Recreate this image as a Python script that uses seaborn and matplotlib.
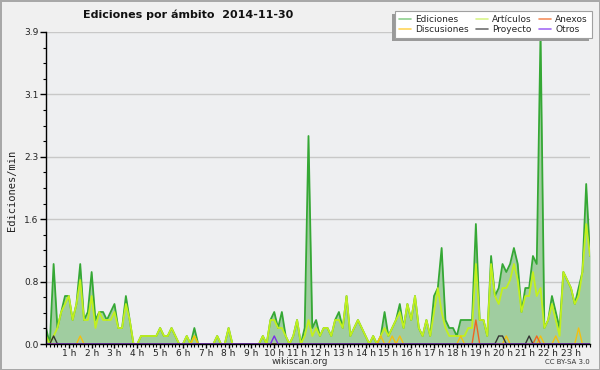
import numpy as np
import pandas as pd
import matplotlib
matplotlib.use('Agg')
import matplotlib.pyplot as plt
import seaborn as sns
from matplotlib.lines import Line2D
from matplotlib.patches import Rectangle
from matplotlib.ticker import MultipleLocator

# ---- data (ediciones por minuto, intervalos de 10 min) ----
ediciones = [
    0.2, 0.0, 1.0, 0.2, 0.4, 0.6, 0.6, 0.3, 0.5, 1.0,
    0.3, 0.4, 0.9, 0.3, 0.4, 0.4, 0.3, 0.4, 0.5, 0.2,
    0.2, 0.6, 0.3, 0.0, 0.0, 0.1, 0.1, 0.1, 0.1, 0.1,
    0.2, 0.1, 0.1, 0.2, 0.1, 0.0, 0.0, 0.1, 0.0, 0.2,
    0.0, 0.0, 0.0, 0.0, 0.0, 0.1, 0.0, 0.0, 0.2, 0.0,
    0.0, 0.0, 0.0, 0.0, 0.0, 0.0, 0.0, 0.1, 0.0, 0.3,
    0.4, 0.2, 0.4, 0.1, 0.0, 0.1, 0.3, 0.0, 0.2, 2.6,
    0.2, 0.3, 0.1, 0.2, 0.2, 0.1, 0.3, 0.4, 0.2, 0.6,
    0.1, 0.2, 0.3, 0.2, 0.1, 0.0, 0.1, 0.0, 0.1, 0.4,
    0.1, 0.2, 0.3, 0.5, 0.2, 0.5, 0.3, 0.6, 0.2, 0.1,
    0.3, 0.1, 0.6, 0.7, 1.2, 0.3, 0.2, 0.2, 0.1, 0.3,
    0.3, 0.3, 0.3, 1.5, 0.3, 0.3, 0.1, 1.1, 0.6, 0.7,
    1.0, 0.9, 1.0, 1.2, 1.0, 0.4, 0.7, 0.7, 1.1, 1.0,
    3.9, 0.2, 0.3, 0.6, 0.4, 0.2, 0.9, 0.8, 0.7, 0.5,
    0.7, 0.9, 2.0, 1.1,
]
articulos = [
    0.1, 0.0, 0.1, 0.2, 0.4, 0.5, 0.6, 0.3, 0.5, 0.8,
    0.3, 0.3, 0.6, 0.2, 0.4, 0.3, 0.3, 0.3, 0.4, 0.2,
    0.2, 0.5, 0.3, 0.0, 0.0, 0.1, 0.1, 0.1, 0.1, 0.1,
    0.2, 0.1, 0.1, 0.2, 0.1, 0.0, 0.0, 0.1, 0.0, 0.1,
    0.0, 0.0, 0.0, 0.0, 0.0, 0.1, 0.0, 0.0, 0.2, 0.0,
    0.0, 0.0, 0.0, 0.0, 0.0, 0.0, 0.0, 0.1, 0.0, 0.3,
    0.3, 0.2, 0.2, 0.1, 0.0, 0.1, 0.3, 0.0, 0.1, 0.3,
    0.1, 0.2, 0.1, 0.2, 0.2, 0.1, 0.3, 0.3, 0.2, 0.6,
    0.1, 0.2, 0.3, 0.2, 0.1, 0.0, 0.1, 0.0, 0.1, 0.2,
    0.1, 0.2, 0.3, 0.4, 0.2, 0.5, 0.3, 0.6, 0.2, 0.1,
    0.3, 0.1, 0.4, 0.7, 0.4, 0.2, 0.1, 0.1, 0.1, 0.1,
    0.1, 0.2, 0.2, 1.0, 0.3, 0.3, 0.1, 1.0, 0.6, 0.5,
    0.7, 0.7, 0.8, 1.0, 0.8, 0.4, 0.6, 0.6, 0.9, 0.6,
    0.7, 0.2, 0.3, 0.5, 0.3, 0.1, 0.9, 0.8, 0.7, 0.5,
    0.6, 0.9, 1.5, 1.1,
]
# sparse series: interval index -> value
discusiones_idx = [9, 39, 88, 91, 93, 109, 121, 130, 134, 140]
discusiones_val = [0.1, 0.1, 0.1, 0.1, 0.1, 0.1, 0.1, 0.1, 0.1, 0.2]
anexos_idx = [113, 129]
anexos_val = [0.3, 0.1]
proyecto_idx = [2, 119, 120, 127]
proyecto_val = [0.1, 0.1, 0.1, 0.1]
otros_idx = [60]
otros_val = [0.1]

hour_labels = [f"{h} h" for h in range(1, 24)]
ytick_vals = [0.0, 0.78, 1.56, 2.34, 3.12, 3.9]
ytick_labels = ["0.0", "0.8", "1.6", "2.3", "3.1", "3.9"]

n = len(ediciones)
hora = np.arange(n) / 6.0


def dense(idx, val):
    arr = np.zeros(n)
    arr[idx] = val
    return arr


series = {
    'Ediciones': np.array(ediciones),
    'Artículos': np.array(articulos),
    'Discusiones': dense(discusiones_idx, discusiones_val),
    'Anexos': dense(anexos_idx, anexos_val),
    'Proyecto': dense(proyecto_idx, proyecto_val),
    'Otros': dense(otros_idx, otros_val),
}
df = pd.concat([pd.DataFrame({'hora': hora, 'valor': v, 'serie': k})
                for k, v in series.items()], ignore_index=True)

line_colors = {
    'Ediciones': '#35a835',
    'Artículos': '#c2f01e',
    'Discusiones': '#f2c010',
    'Anexos': '#ee6622',
    'Proyecto': '#333333',
    'Otros': '#7a2ee8',
}
legend_colors = {
    'Ediciones': '#8fd08f',
    'Discusiones': '#ffd65a',
    'Artículos': '#d8f58a',
    'Proyecto': '#707070',
    'Anexos': '#f59060',
    'Otros': '#a46cf5',
}

sns.set_theme(style='white')
plt.rcParams['font.family'] = ['DejaVu Sans']

fig = plt.figure(figsize=(6, 3.7), dpi=100, facecolor='#f0f0f0')
fig.patch.set_edgecolor('#a8a8a8')
fig.patch.set_linewidth(2)
ax = fig.add_axes([46 / 600, 26 / 370, 544 / 600, 312 / 370])
ax.set_facecolor('#eeeff1')

ax.fill_between(hora, series['Ediciones'], color='#a0cda0', lw=0, zorder=1)
widths = {'Ediciones': 1.3, 'Artículos': 1.3}
for name in ['Ediciones', 'Artículos', 'Discusiones', 'Anexos', 'Proyecto', 'Otros']:
    sns.lineplot(data=df[df['serie'] == name], x='hora', y='valor',
                 color=line_colors[name], linewidth=widths.get(name, 1.0),
                 estimator=None, legend=False, ax=ax, zorder=2)

ax.set_xlim(0, (n - 1) / 6.0)
ax.set_ylim(0, 3.9)
ax.set_xticks(range(1, 24))
ax.set_xticklabels(hour_labels)
ax.xaxis.set_minor_locator(MultipleLocator(1 / 6))
ax.set_yticks(ytick_vals)
ax.set_yticklabels(ytick_labels)
ax.yaxis.set_minor_locator(MultipleLocator(0.195))
ax.tick_params(axis='both', which='both', direction='out', colors='black',
               labelcolor='#222222', bottom=True, left=True)
ax.tick_params(axis='y', which='major', length=4, width=1, labelsize=6.5, pad=1.5)
ax.tick_params(axis='x', which='major', length=3, width=1, labelsize=6.5, pad=0.5)
ax.tick_params(axis='both', which='minor', length=2.5, width=0.8)
ax.set_xlabel('')
ax.set_ylabel('')
ax.yaxis.grid(True, color='#c8c8c8', lw=1)
ax.xaxis.grid(False)
ax.set_axisbelow(True)
for s in ['top', 'right']:
    ax.spines[s].set_visible(False)
for s in ['left', 'bottom']:
    ax.spines[s].set_color('black')
    ax.spines[s].set_linewidth(1)
    ax.spines[s].set_zorder(5)

fig.text(188 / 600, 1 - 15 / 370, 'Ediciones por ámbito  2014-11-30',
         weight='bold', fontsize=8, ha='center', va='center', color='#111111')
fig.text(12 / 600, 1 - 190 / 370, 'Ediciones/min', rotation=90, ha='center',
         va='center', family='DejaVu Sans Mono', fontsize=7.5, color='#222222')
fig.text(300 / 600, 1 - 362 / 370, 'wikiscan.org', ha='center', va='center',
         fontsize=6.5, color='#333333')
fig.text(590 / 600, 1 - 362 / 370, 'CC BY-SA 3.0', ha='right', va='center',
         fontsize=5, color='#333333')

order = ['Ediciones', 'Discusiones', 'Artículos', 'Proyecto', 'Anexos', 'Otros']
handles = [Line2D([0], [0], color=legend_colors[k], lw=1.2) for k in order]
leg = fig.legend(handles, order, ncol=3, loc='upper right',
                 bbox_to_anchor=(592 / 600, 1 - 11 / 370), borderaxespad=0,
                 frameon=True, fontsize=6.5, handlelength=1.3,
                 columnspacing=0.8, labelspacing=0.15, borderpad=0.45,
                 handletextpad=0.5, fancybox=False, edgecolor='#a0a0a0',
                 facecolor='#ffffff', framealpha=1)
leg.get_frame().set_linewidth(0.8)
leg.set_zorder(10)

fig.canvas.draw()
bb = leg.get_window_extent()
inv = fig.transFigure.inverted()
(x0, y0) = inv.transform((bb.x0 - 3, bb.y0 - 3))
(x1, y1) = inv.transform((bb.x1 - 3, bb.y1 - 3))
shadow = Rectangle((x0, y0), x1 - x0, y1 - y0, transform=fig.transFigure,
                   facecolor='#9a9a9a', edgecolor='none', zorder=9)
fig.add_artist(shadow)

fig.savefig('out.png', dpi=100, facecolor=fig.get_facecolor())
